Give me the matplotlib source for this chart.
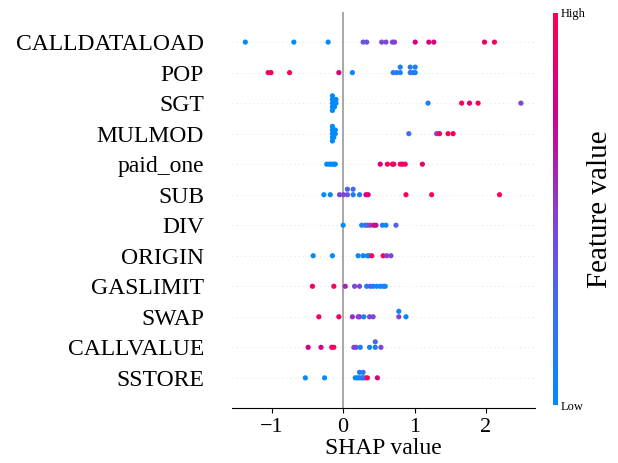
import matplotlib
matplotlib.use("Agg")
import matplotlib.pyplot as plt
import numpy as np
from matplotlib.colors import LinearSegmentedColormap
from matplotlib.cm import ScalarMappable

plt.rcParams['font.family'] = ['Liberation Serif', 'DejaVu Serif']

# features, top to bottom
features = ['CALLDATALOAD', 'POP', 'SGT', 'MULMOD', 'paid_one', 'SUB', 'DIV',
            'ORIGIN', 'GASLIMIT', 'SWAP', 'CALLVALUE', 'SSTORE']

# SHAP values per feature
shap_vals = {
    'CALLDATALOAD': [-1.37, -0.69, -0.21, 0.28, 0.33, 0.54, 0.60, 0.69, 0.72, 1.01, 1.20, 1.27, 1.98, 2.12],
    'POP': [-1.05, -1.01, -0.75, -0.06, 0.13, 0.70, 0.75, 0.80, 0.80, 0.94, 0.94, 0.98, 1.01, 1.01],
    'SGT': [-0.15, -0.15, -0.15, -0.15, -0.15, -0.12, -0.12, -0.12, -0.10, -0.10, 1.19, 1.66, 1.77, 1.89, 2.49],
    'MULMOD': [-0.15, -0.15, -0.15, -0.15, -0.15, -0.13, -0.13, -0.13, -0.11, -0.11, 0.92, 1.31, 1.35, 1.47, 1.54],
    'paid_one': [-0.23, -0.19, -0.16, -0.13, -0.11, 0.52, 0.62, 0.69, 0.71, 0.80, 0.83, 0.87, 1.11],
    'SUB': [-0.27, -0.18, -0.05, 0.005, 0.06, 0.06, 0.14, 0.14, 0.23, 0.32, 0.35, 0.88, 1.24, 2.19],
    'DIV': [0.0, 0.26, 0.31, 0.34, 0.38, 0.43, 0.46, 0.55, 0.60, 0.74],
    'ORIGIN': [-0.42, -0.15, 0.21, 0.28, 0.34, 0.36, 0.40, 0.56, 0.61, 0.67],
    'GASLIMIT': [-0.43, -0.13, 0.03, 0.16, 0.23, 0.33, 0.38, 0.42, 0.47, 0.52, 0.56, 0.59],
    'SWAP': [-0.34, -0.06, 0.13, 0.21, 0.23, 0.29, 0.37, 0.42, 0.78, 0.78, 0.88],
    'CALLVALUE': [-0.49, -0.31, -0.16, -0.13, 0.15, 0.18, 0.24, 0.37, 0.45, 0.45, 0.53],
    'SSTORE': [-0.53, -0.26, 0.17, 0.20, 0.23, 0.23, 0.26, 0.28, 0.28, 0.31, 0.34, 0.48],
}

# normalised feature values (colour)
feat_vals = {
    'CALLDATALOAD': [0, 0, 0, 0.4, 0.4, 0.45, 0.45, 0.45, 0.5, 0.8, 0.8, 0.8, 0.9, 0.95],
    'POP': [0.95, 0.95, 1.0, 0.8, 0.05, 0.15, 0.15, 0.1, 0.1, 0.2, 0.15, 0.15, 0.1, 0.1],
    'SGT': [0, 0, 0, 0, 0, 0, 0, 0, 0, 0, 0.1, 1.0, 0.85, 0.95, 0.45],
    'MULMOD': [0, 0, 0, 0, 0, 0, 0, 0, 0, 0, 0.25, 0.5, 0.95, 1.0, 0.95],
    'paid_one': [0, 0, 0, 0, 0, 0.8, 0.95, 0.9, 0.95, 0.95, 0.9, 0.95, 0.9],
    'SUB': [0, 0, 0.45, 0.45, 0.4, 0.3, 0.1, 0.25, 0.1, 0.75, 0.85, 1.0, 1.0, 1.0],
    'DIV': [0, 0.1, 0.2, 0.3, 0.5, 0.85, 0.7, 0.05, 0.05, 0.3],
    'ORIGIN': [0, 0, 0.05, 0.05, 0.05, 0.05, 1.0, 0.95, 0.5, 0.45],
    'GASLIMIT': [0.9, 0.95, 0.6, 0.45, 0.45, 0.1, 0.4, 0.05, 0.05, 0.05, 0.05, 0.05],
    'SWAP': [0.95, 0.95, 0.55, 0.45, 0.5, 0.1, 0.45, 0.45, 0.45, 0.05, 0.05],
    'CALLVALUE': [0.75, 0.75, 0.95, 0.95, 0.45, 0.45, 0.1, 0.05, 0.1, 0.3, 0.45],
    'SSTORE': [0, 0, 0.05, 0.05, 0.1, 0.1, 0.1, 0.1, 0.2, 0.3, 1.0, 0.8],
}

red_blue = LinearSegmentedColormap.from_list(
    'red_blue', ['#008bfb', '#3f6ef0', '#8a3dd0', '#d0008a', '#ff0052'])


def swarm_offsets(vals, row_height=0.4, nbins=100):
    # stack points that fall in the same bin, like shap's beeswarm
    vals = np.asarray(vals, dtype=float)
    quant = np.round(nbins * (vals - vals.min()) / (vals.max() - vals.min() + 1e-8))
    inds = np.argsort(quant, kind='stable')
    ys = np.zeros(len(vals))
    layer = 0
    last_bin = -1
    for ind in inds:
        if quant[ind] != last_bin:
            layer = 0
        ys[ind] = np.ceil(layer / 2) * ((layer % 2) * 2 - 1)
        layer += 1
        last_bin = quant[ind]
    ys *= 0.9 * (row_height / np.max(ys + 1))
    return ys


fig = plt.figure(figsize=(6.18, 4.63), dpi=100)
ax = fig.add_axes([0.375, 0.118, 0.491, 0.857])

n = len(features)
for i, name in enumerate(features):
    pos = n - 1 - i
    ax.axhline(pos, color='#cccccc', lw=0.5, dashes=(1, 5), zorder=-1)
    sv = np.array(shap_vals[name])
    ax.scatter(sv, pos + swarm_offsets(sv), c=feat_vals[name], cmap=red_blue,
               vmin=0, vmax=1, s=14, linewidth=0, zorder=3)

ax.axvline(0, color='#999999', lw=1.2, zorder=-1)
ax.set_xlim(-1.56, 2.69)
ax.set_ylim(-1, n)
ax.set_yticks(range(n))
ax.set_yticklabels(features[::-1], fontsize=17)
ax.set_xticks([-1, 0, 1, 2])
ax.tick_params(axis='y', length=0, pad=20)
ax.tick_params(axis='x', labelsize=16)
ax.set_xlabel('SHAP value', fontsize=17, labelpad=1)
for side in ['top', 'right', 'left']:
    ax.spines[side].set_visible(False)

cax = fig.add_axes([0.895, 0.125, 0.008, 0.847])
cb = fig.colorbar(ScalarMappable(cmap=red_blue), cax=cax, ticks=[0, 1])
cb.set_ticklabels(['Low', 'High'])
cb.outline.set_visible(False)
cax.tick_params(length=0, labelsize=9, pad=2)
cb.set_label('Feature value', fontsize=21, labelpad=1)

fig.savefig('out.png', dpi=100)
